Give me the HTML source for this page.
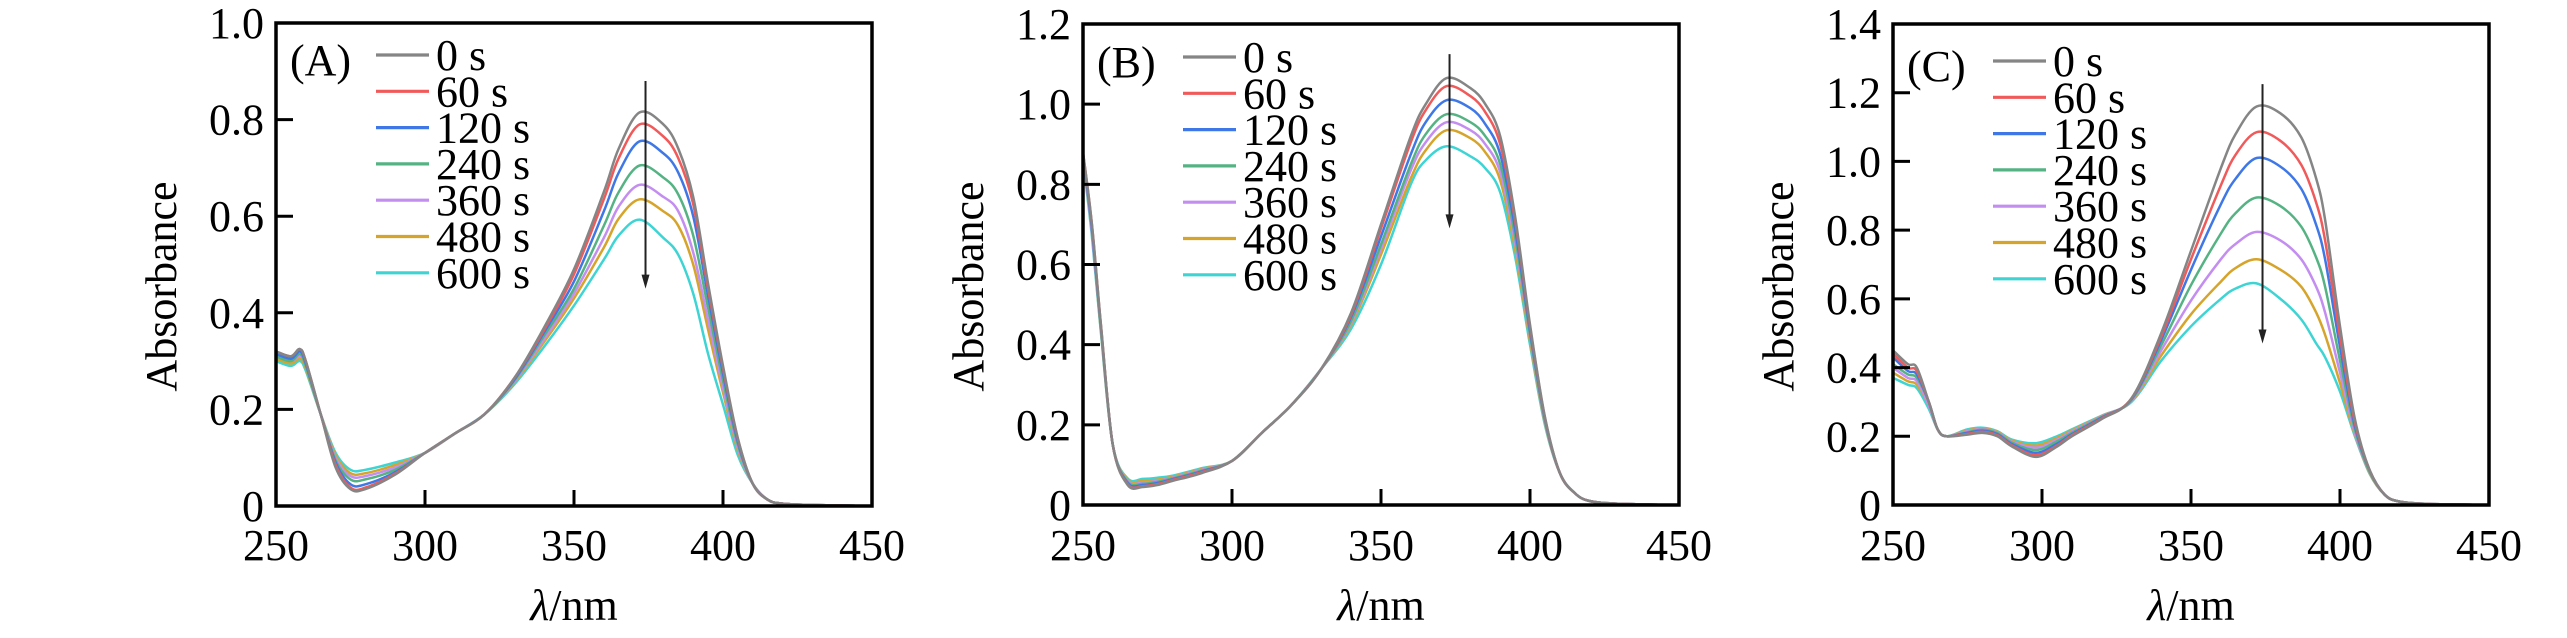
<!DOCTYPE html>
<html><head><meta charset="utf-8">
<style>
html,body{margin:0;padding:0;background:#fff;}
svg, svg text{font-family:"Liberation Serif","Times New Roman",serif;}
svg{display:block;}
</style></head>
<body>
<svg id="chart" width="2567" height="638" viewBox="0 0 2567 638" xmlns="http://www.w3.org/2000/svg" font-family="Liberation Serif, serif"></svg>
<script>
const seriesLabels = ["0 s","60 s","120 s","240 s","360 s","480 s","600 s"];
const seriesColors = ["#858585","#f05a5a","#3f78e6","#55b383","#c38ef0","#d6a42a","#3fd4d4"];
const xTicks = [250,300,350,400,450];
const xTickLabels = ["250","300","350","400","450"];

const wlA = [250,255,258,260,265,270,275,280,290,300,310,320,330,340,350,360,365,372,380,385,390,395,400,405,410,415,420,430,450];
const A0   = [0.32,0.31,0.325,0.30,0.19,0.08,0.035,0.035,0.065,0.11,0.15,0.19,0.265,0.37,0.49,0.65,0.74,0.815,0.79,0.74,0.64,0.46,0.29,0.14,0.046,0.013,0.005,0.002,0];
const A60  = [0.32,0.31,0.325,0.30,0.19,0.085,0.038,0.038,0.067,0.11,0.15,0.19,0.265,0.365,0.48,0.635,0.72,0.79,0.765,0.72,0.625,0.45,0.285,0.138,0.046,0.013,0.005,0.002,0];
const A120 = [0.315,0.305,0.32,0.295,0.19,0.09,0.045,0.045,0.07,0.11,0.15,0.19,0.262,0.36,0.465,0.61,0.69,0.755,0.73,0.69,0.60,0.435,0.275,0.133,0.046,0.013,0.005,0.002,0];
const A240 = [0.31,0.30,0.315,0.29,0.19,0.095,0.055,0.055,0.075,0.11,0.15,0.19,0.26,0.353,0.45,0.58,0.65,0.705,0.68,0.645,0.56,0.41,0.26,0.127,0.046,0.013,0.005,0.002,0];
const A360 = [0.31,0.30,0.31,0.29,0.19,0.10,0.062,0.062,0.08,0.11,0.15,0.19,0.258,0.346,0.44,0.555,0.62,0.665,0.64,0.61,0.525,0.385,0.245,0.12,0.046,0.013,0.005,0.002,0];
const A480 = [0.305,0.295,0.305,0.285,0.19,0.105,0.068,0.068,0.085,0.11,0.15,0.19,0.256,0.34,0.43,0.535,0.595,0.635,0.61,0.58,0.50,0.365,0.235,0.115,0.046,0.013,0.005,0.002,0];
const A600 = [0.30,0.29,0.30,0.28,0.19,0.11,0.075,0.075,0.09,0.11,0.15,0.19,0.252,0.33,0.415,0.51,0.56,0.593,0.555,0.52,0.44,0.315,0.21,0.105,0.046,0.013,0.005,0.002,0];

const wlB = [250,253,256,260,265,270,275,280,290,300,310,320,330,340,350,360,365,372,380,385,390,395,400,405,410,415,420,430,450];
const B0   = [0.88,0.70,0.45,0.15,0.05,0.045,0.05,0.06,0.08,0.11,0.18,0.25,0.34,0.48,0.70,0.92,1.00,1.065,1.04,1.00,0.92,0.72,0.45,0.22,0.08,0.03,0.01,0.003,0];
const B60  = [0.88,0.70,0.45,0.15,0.052,0.047,0.052,0.062,0.082,0.11,0.18,0.25,0.34,0.475,0.69,0.905,0.985,1.045,1.02,0.98,0.90,0.71,0.445,0.218,0.08,0.03,0.01,0.003,0];
const B120 = [0.875,0.69,0.445,0.15,0.055,0.05,0.055,0.064,0.084,0.11,0.18,0.25,0.34,0.47,0.67,0.875,0.955,1.01,0.99,0.95,0.875,0.69,0.435,0.215,0.08,0.03,0.01,0.003,0];
const B240 = [0.87,0.69,0.44,0.15,0.058,0.053,0.058,0.066,0.086,0.11,0.18,0.25,0.34,0.46,0.65,0.85,0.925,0.975,0.955,0.92,0.85,0.67,0.425,0.21,0.08,0.03,0.01,0.003,0];
const B360 = [0.87,0.68,0.44,0.15,0.06,0.056,0.06,0.068,0.088,0.11,0.18,0.25,0.34,0.455,0.64,0.835,0.905,0.955,0.935,0.90,0.83,0.655,0.42,0.207,0.08,0.03,0.01,0.003,0];
const B480 = [0.865,0.68,0.435,0.15,0.063,0.06,0.063,0.07,0.09,0.11,0.18,0.25,0.34,0.45,0.625,0.815,0.885,0.935,0.915,0.88,0.81,0.64,0.41,0.204,0.08,0.03,0.01,0.003,0];
const B600 = [0.86,0.67,0.43,0.15,0.066,0.065,0.068,0.073,0.092,0.11,0.18,0.25,0.34,0.44,0.60,0.80,0.86,0.895,0.87,0.84,0.78,0.62,0.40,0.20,0.08,0.03,0.01,0.003,0];

const wlC = [250,255,258,262,265,268,275,280,285,290,298,305,310,320,330,340,350,360,365,372,380,387,392,395,400,405,410,415,420,430,450];
const C0   = [0.45,0.41,0.40,0.30,0.22,0.20,0.205,0.21,0.20,0.17,0.14,0.17,0.20,0.25,0.31,0.50,0.74,0.98,1.08,1.16,1.14,1.07,0.95,0.83,0.52,0.25,0.10,0.03,0.01,0.003,0];
const C60  = [0.44,0.40,0.39,0.30,0.22,0.20,0.207,0.213,0.203,0.173,0.145,0.173,0.203,0.252,0.31,0.49,0.715,0.93,1.02,1.085,1.06,0.99,0.88,0.77,0.49,0.24,0.10,0.03,0.01,0.003,0];
const C120 = [0.43,0.39,0.38,0.30,0.22,0.20,0.21,0.216,0.206,0.177,0.152,0.178,0.206,0.254,0.308,0.48,0.685,0.875,0.95,1.01,0.985,0.92,0.815,0.715,0.46,0.23,0.10,0.03,0.01,0.003,0];
const C240 = [0.41,0.38,0.37,0.30,0.22,0.20,0.212,0.219,0.209,0.181,0.16,0.185,0.21,0.256,0.306,0.465,0.64,0.79,0.85,0.895,0.87,0.81,0.72,0.635,0.42,0.22,0.095,0.03,0.01,0.003,0];
const C360 = [0.40,0.37,0.36,0.29,0.22,0.20,0.215,0.221,0.211,0.184,0.167,0.19,0.214,0.258,0.304,0.45,0.595,0.715,0.76,0.795,0.77,0.715,0.635,0.56,0.385,0.21,0.093,0.03,0.01,0.003,0];
const C480 = [0.385,0.36,0.35,0.29,0.22,0.20,0.217,0.223,0.213,0.187,0.173,0.195,0.217,0.259,0.302,0.435,0.555,0.65,0.69,0.715,0.685,0.635,0.56,0.495,0.355,0.205,0.091,0.03,0.01,0.003,0];
const C600 = [0.37,0.35,0.34,0.28,0.22,0.20,0.22,0.225,0.215,0.19,0.18,0.20,0.22,0.26,0.30,0.42,0.52,0.60,0.63,0.645,0.60,0.54,0.47,0.43,0.33,0.20,0.09,0.03,0.01,0.003,0];

const panelLetters = ["(A)","(B)","(C)"];
const yTickLabelsA = ["0","0.2","0.4","0.6","0.8","1.0"];
const yTickLabelsB = ["0","0.2","0.4","0.6","0.8","1.0","1.2"];
const yTickLabelsC = ["0","0.2","0.4","0.6","0.8","1.0","1.2","1.4"];
const yTickValuesA = [0,0.2,0.4,0.6,0.8,1.0];
const yTickValuesB = [0,0.2,0.4,0.6,0.8,1.0,1.2];
const yTickValuesC = [0,0.2,0.4,0.6,0.8,1.0,1.2,1.4];
const yMaxes = [1.0,1.2,1.4];
const arrowFrom = [0.88,1.125,1.225];
const arrowTo = [0.45,0.69,0.47];
const arrowWl = [374,373,374];

const NS = "http://www.w3.org/2000/svg";
const svg = document.getElementById("chart");
const FONT = "Liberation Serif, Times New Roman, serif";
function mk(tag, attrs, parent){
  const e = document.createElementNS(NS, tag);
  for (const k in attrs) e.setAttribute(k, attrs[k]);
  if (tag === "text") e.setAttribute("font-family", FONT);
  (parent||svg).appendChild(e);
  return e;
}
function smoothPath(pts){
  let d = "M" + pts[0][0].toFixed(1) + "," + pts[0][1].toFixed(1);
  for (let i=0;i<pts.length-1;i++){
    const p0 = pts[Math.max(0,i-1)], p1 = pts[i], p2 = pts[i+1], p3 = pts[Math.min(pts.length-1,i+2)];
    const c1x = p1[0]+(p2[0]-p0[0])/6, c1y = p1[1]+(p2[1]-p0[1])/6;
    const c2x = p2[0]-(p3[0]-p1[0])/6, c2y = p2[1]-(p3[1]-p1[1])/6;
    d += " C"+c1x.toFixed(1)+","+c1y.toFixed(1)+" "+c2x.toFixed(1)+","+c2y.toFixed(1)+" "+p2[0].toFixed(1)+","+p2[1].toFixed(1);
  }
  return d;
}

const panels = [
  {x0:276, y0:23, w:596, h:483, wl:wlA, series:[A0,A60,A120,A240,A360,A480,A600], yl:yTickLabelsA, yv:yTickValuesA, legY:55},
  {x0:1083, y0:24, w:596, h:481, wl:wlB, series:[B0,B60,B120,B240,B360,B480,B600], yl:yTickLabelsB, yv:yTickValuesB, legY:57},
  {x0:1893, y0:24, w:596, h:481, wl:wlC, series:[C0,C60,C120,C240,C360,C480,C600], yl:yTickLabelsC, yv:yTickValuesC, legY:61}
];
const pnames = ["a","b","c"];

panels.forEach((p, pi) => {
  const g = mk("g", {});
  
  
  const ymax = yMaxes[pi];
  const X = v => p.x0 + (v-250)/200*p.w;
  const Y = v => p.y0 + p.h - v/ymax*p.h;

  const cp = mk("clipPath", {id:"clip"+pi}, g);
  mk("rect", {x:p.x0, y:p.y0, width:p.w, height:p.h}, cp);

  const cg = mk("g", {"clip-path":"url(#clip"+pi+")"}, g);
  for (let s = p.series.length-1; s >= 0; s--){
    const vals = p.series[s];
    const pts = p.wl.map((w,i)=>[X(w), Y(vals[i])]);
    const path = mk("path", {d:smoothPath(pts), fill:"none", stroke:seriesColors[s], "stroke-width":2.5, "stroke-linejoin":"round"}, cg);
    
    
  }

  const fr = mk("rect", {x:p.x0, y:p.y0, width:p.w, height:p.h, fill:"none", stroke:"#000", "stroke-width":3.5}, g);
  
  

  xTicks.forEach((t,i)=>{
    const x = X(t);
    if (i>0 && i<xTicks.length-1) mk("line", {x1:x, x2:x, y1:p.y0+p.h, y2:p.y0+p.h-16, stroke:"#000", "stroke-width":3}, g);
    const tx = mk("text", {x:x, y:560, "font-size":44, "text-anchor":"middle", fill:"#000"}, g);
    tx.textContent = xTickLabels[i];
    
    
  });
  p.yv.forEach((v,i)=>{
    const y = Y(v);
    if (i>0 && i<p.yv.length-1) mk("line", {x1:p.x0, x2:p.x0+17, y1:y, y2:y, stroke:"#000", "stroke-width":3}, g);
    const ty = mk("text", {x:p.x0-12, y:y+15, "font-size":44, "text-anchor":"end", fill:"#000"}, g);
    ty.textContent = p.yl[i];
    
    
  });

  const yt = mk("text", {x:0, y:0, "font-size":44, "text-anchor":"middle", fill:"#000", transform:"translate("+(p.x0-100)+","+(p.y0+p.h/2+22)+") rotate(-90)"}, g);
  yt.textContent = "Absorbance";
  
  
  const xt = mk("text", {x:p.x0+p.w/2, y:620, "font-size":44, "text-anchor":"middle", fill:"#000"}, g);
  
  
  const lam = mk("tspan", {"font-style":"italic"}, xt); lam.textContent = "λ";
  const nm = mk("tspan", {}, xt); nm.textContent = "/nm";

  const pl = mk("text", {x:p.x0+14, y:p.legY+20, "font-size":44, fill:"#000"}, g);
  pl.textContent = panelLetters[pi];
  
  

  const lg = mk("g", {}, g);
  
  
  seriesLabels.forEach((lab, s)=>{
    const y = p.legY + s*36.3;
    const e = mk("g", {}, lg);
    
    
    mk("line", {x1:p.x0+100, x2:p.x0+153, y1:y, y2:y, stroke:seriesColors[s], "stroke-width":3.2}, e);
    const t = mk("text", {x:p.x0+160, y:y+15, "font-size":44, fill:"#000"}, e);
    t.textContent = lab;
  });

  const ax = X(arrowWl[pi]), ay1 = Y(arrowFrom[pi]), ay2 = Y(arrowTo[pi]);
  const ag = mk("g", {}, g);
  
  
  mk("line", {x1:ax, x2:ax, y1:ay1, y2:ay2-10, stroke:"#222", "stroke-width":2}, ag);
  mk("polygon", {points:(ax-4)+","+(ay2-14)+" "+(ax+4)+","+(ay2-14)+" "+ax+","+ay2, fill:"#222"}, ag);
});
</script>
</body></html>
